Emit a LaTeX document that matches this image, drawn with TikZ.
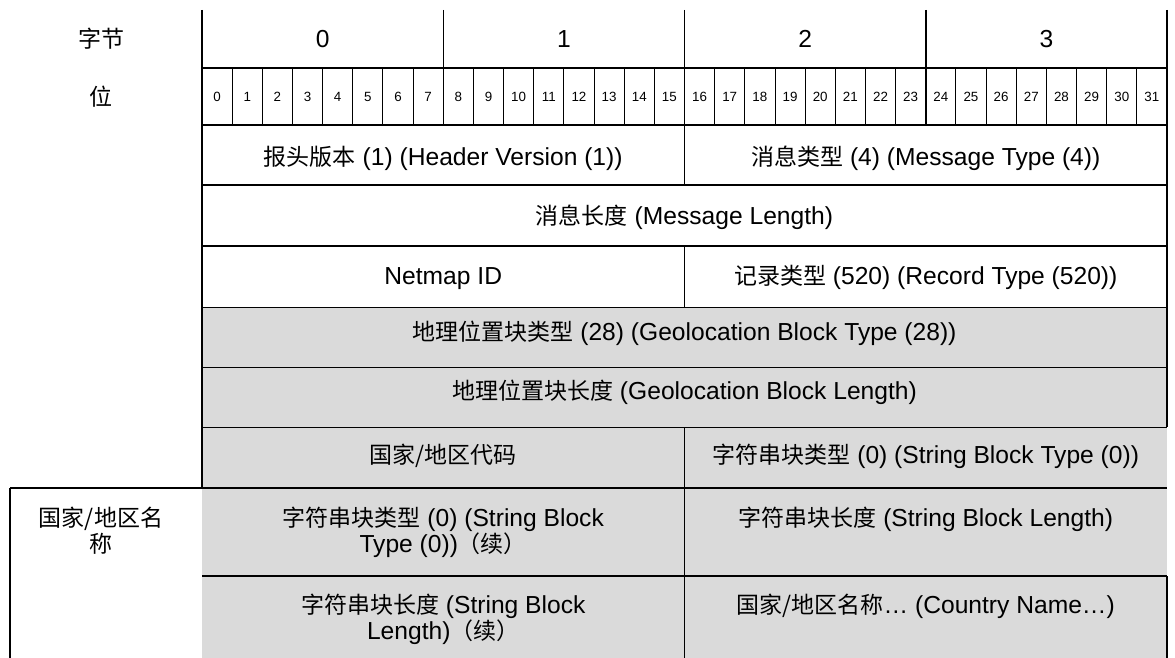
\documentclass[tikz,border=0pt]{standalone}
\usepackage{fontspec}
\setmainfont{Liberation Sans}[Scale=1.07]
\newfontfamily\cjkf{Noto Sans CJK SC}
\newcommand\zh[1]{{\cjkf #1}}
\definecolor{cellgray}{RGB}{218,218,218}
\begin{document}
\begin{tikzpicture}[x=1pt,y=-1pt,
  thickline/.style={line width=1.5pt},
  thinline/.style={line width=0.9pt},
  lbl/.style={font=\fontsize{23}{26}\selectfont, inner sep=0pt, align=center},
  rowtxt/.style={lbl, anchor=base},
  bitlbl/.style={font=\fontsize{12.5}{15}\selectfont, inner sep=0pt}]
\useasboundingbox (0,0) rectangle (1175,658);
% gray area
\fill[cellgray] (202,307) rectangle (1167,658);
% bit separators
\foreach \i in {1,...,31} \draw[thinline] ({202+30.15625*\i},68) -- ({202+30.15625*\i},125);
% thin row lines
\draw[thinline] (202,307) -- (1167,307);
\draw[thinline] (202,367) -- (1167,367);
\draw[thinline] (202,427) -- (1167,427);
% thick lines
\draw[thickline] (202,68) -- (1167,68);
\draw[thickline] (202,125) -- (1167,125);
\draw[thickline] (202,185) -- (1167,185);
\draw[thickline] (202,246) -- (1167,246);
\draw[thickline] (10,488) -- (1167,488);
\draw[thickline] (202,576) -- (1167,576);
\draw[thickline] (10,488) -- (10,658);
\draw[thickline] (202,10) -- (202,488);
\draw[thickline] (443.25,10) -- (443.25,125);
\draw[thickline] (925.75,10) -- (925.75,125);
\draw[thickline] (684.5,10) -- (684.5,185);
\draw[thickline] (684.5,246) -- (684.5,307);
\draw[thickline] (684.5,427) -- (684.5,658);
\draw[thickline] (1167,10) -- (1167,427);
\draw[thickline] (1167,576) -- (1167,658);
% header labels
\node[lbl] (hbyte) at (101,39) {\zh{字节}};
\node[lbl] (hbit) at (101,97) {\zh{位}};
\node[lbl] (byte0) at (322.6,39) {0};
\node[lbl] (byte1) at (563.9,39) {1};
\node[lbl] (byte2) at (805.1,39) {2};
\node[lbl] (byte3) at (1046.4,39) {3};
\foreach \i in {0,...,31} \node[bitlbl] (bit\i) at ({202+30.15625*(\i+0.5)},97) {\i};
% row texts
\node[rowtxt] (hver) at (443.25,165) {\zh{报头版本} (1) (Header Version (1))};
\node[rowtxt] (mtype) at (925.75,165) {\zh{消息类型} (4) (Message Type (4))};
\node[rowtxt] (mlen) at (684.5,224) {\zh{消息长度} (Message Length)};
\node[rowtxt] (nmid) at (443.25,284) {Netmap ID};
\node[rowtxt] (rtype) at (925.75,284) {\zh{记录类型} (520) (Record Type (520))};
\node[rowtxt] (gtype) at (684.5,340) {\zh{地理位置块类型} (28) (Geolocation Block Type (28))};
\node[rowtxt] (glen) at (684.5,399) {\zh{地理位置块长度} (Geolocation Block Length)};
\node[rowtxt] (ccode) at (443.25,463) {\zh{国家/地区代码}};
\node[rowtxt] (stype) at (925.75,463) {\zh{字符串块类型} (0) (String Block Type (0))};
\node[lbl, anchor=north] (cname) at (101,507) {\zh{国家/地区名}\\\zh{称}};
\node[lbl, anchor=north] (stype2) at (443.25,507) {\zh{字符串块类型} (0) (String Block\\Type (0))\zh{（续）}};
\node[lbl, anchor=north] (slen) at (925.75,507) {\zh{字符串块长度} (String Block Length)};
\node[lbl, anchor=north] (slen2) at (443.25,594) {\zh{字符串块长度} (String Block\\Length)\zh{（续）}};
\node[lbl, anchor=north] (cnm) at (925.75,594) {\zh{国家/地区名称}… (Country Name…)};
\end{tikzpicture}
\end{document}
